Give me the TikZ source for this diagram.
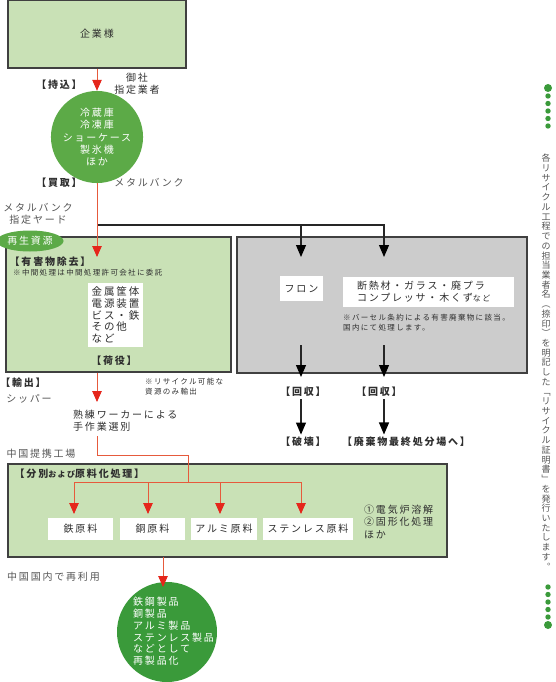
\documentclass[tikz,border=0pt]{standalone}
\usepackage{fontspec}
\setmainfont{Noto Sans CJK JP}[LetterSpace=18]
\usepackage{tikz}
\usetikzlibrary{arrows.meta, positioning, calc, shapes.geometric}
\definecolor{boxgreen}{HTML}{C9E1B6}
\definecolor{leafgreen}{HTML}{5CAA47}
\definecolor{deepgreen}{HTML}{3A9A3A}
\definecolor{boxgray}{HTML}{CCCCCC}
\definecolor{edge}{HTML}{404040}
\definecolor{ink}{HTML}{2E2E2E}
\definecolor{muted}{HTML}{555555}
\definecolor{flowred}{HTML}{E65A3C}
\definecolor{tipred}{HTML}{E5261B}

\begin{document}
\begin{tikzpicture}[
  x=1pt, y=-1pt,
  panel/.style={draw=edge, line width=1.2pt, inner sep=0pt},
  greenpanel/.style={panel, fill=boxgreen},
  graypanel/.style={panel, fill=boxgray},
  lbl/.style={font=\fontsize{10}{12.2}\selectfont, text=ink, inner sep=1pt, align=center},
  tag/.style={lbl, font=\bfseries\fontsize{10}{12}\selectfont, inner sep=2.5pt},
  note/.style={font=\fontsize{7.5}{9.6}\selectfont, text=ink, align=left, inner sep=0pt},
  matbox/.style={lbl, fill=white, minimum height=22pt, inner sep=0pt},
  vtext/.style={font=\fontsize{9}{9.72}\selectfont, text=muted, align=center, inner sep=0pt},
  redarr/.style={-{Triangle[length=11pt, width=9.5pt, color=tipred]}, flowred, line width=0.9pt},
  redline/.style={flowred, line width=0.9pt},
  blkarr/.style={-{Triangle[length=12pt, width=10pt, color=black]}, black!85, line width=1.1pt}
]
  \useasboundingbox (0,0) rectangle (555,682);

  % source and collection
  \node[greenpanel, lbl, minimum width=178pt, minimum height=68pt] (corp) at (97,34) {企業様};
  \node[tag] (bring) at (59,85) {【持込】};
  \node[lbl] (dealer) at (137,84) {御社\\指定業者};
  \node[circle, fill=leafgreen, minimum size=80pt, inner sep=0pt, lbl, text=white] (units) at (97,137)
    {冷蔵庫\\冷凍庫\\ショーケース\\製氷機\\ほか};
  \node[tag] (buy) at (59,183) {【買取】};
  \node[lbl, text=muted] (bank) at (149,183) {メタルバンク};
  \node[lbl, text=muted] (bankyard) at (38,214) {メタルバンク\\指定ヤード};

  % yard
  \node[greenpanel, minimum width=225pt, minimum height=135pt] (yard) at (118.5,304.5) {};
  \node[ellipse, fill=leafgreen, minimum width=60pt, minimum height=21pt, inner sep=0pt,
        lbl, text=white] (resource) at (30,241) {再生資源};
  \node[tag, anchor=west] (hazard) at (7,262) {【有害物除去】};
  \node[note, anchor=west] (hazardnote) at (13,273) {※中間処理は中間処理許可会社に委託};
  \node[lbl, fill=white, align=left, inner xsep=4pt, inner ysep=4pt,
        font=\fontsize{10.5}{11.8}\selectfont] (parts) at (115.5,315)
    {金属筐体\\電源装置\\ビス・鉄\\その他\\など};
  \node[tag] (handling) at (114,361) {【荷役】};
  \node[tag] (export) at (23,383) {【輸出】};
  \node[lbl, text=muted] (shipper) at (29,399) {シッパー};
  \node[note, anchor=north west] (exportnote) at (145,378) {※リサイクル可能な\\資源のみ輸出};
  \node[lbl, anchor=west, align=left] (sort) at (72,421) {熟練ワーカーによる\\手作業選別};

  % domestic treatment
  \node[graypanel, minimum width=290pt, minimum height=136pt] (plant) at (382,305) {};
  \node[lbl, fill=white, minimum width=43pt, minimum height=25pt, inner sep=0pt] (freon) at (301.5,288.5) {フロン};
  \node[lbl, fill=white, align=left, text width=143pt, inner xsep=14pt, inner ysep=4pt] (waste) at (428.5,292)
    {断熱材・ガラス・廃プラ\\コンプレッサ・木くず{\fontsize{8}{10}\selectfont など}};
  \node[note, anchor=north west] (baselnote) at (343,314) {※バーセル条約による有害廃棄物に該当。\\国内にて処理します。};
  \node[tag] (collect1) at (303,392) {【回収】};
  \node[tag] (collect2) at (379,392) {【回収】};
  \node[tag] (destroy) at (303,442) {【破壊】};
  \node[tag] (landfill) at (406,442) {【廃棄物最終処分場へ】};

  % partner factory
  \node[lbl, text=muted] (partner) at (41,454) {中国提携工場};
  \node[greenpanel, minimum width=439pt, minimum height=93pt] (factory) at (227.5,510.5) {};
  \node[tag, anchor=west] (sortproc) at (12,474) {【分別{\fontsize{8}{10}\selectfont および}原料化処理】};
  \node[matbox, minimum width=65pt] (iron) at (80.5,529) {鉄原料};
  \node[matbox, minimum width=65pt] (copper) at (152.5,529) {銅原料};
  \node[matbox, minimum width=66pt] (alum) at (224,529) {アルミ原料};
  \node[matbox, minimum width=90pt] (steel) at (308,529) {ステンレス原料};
  \node[lbl, align=left, anchor=north west] (method) at (363,504) {①電気炉溶解\\②固形化処理\\ほか};

  % reuse
  \node[lbl, text=muted, anchor=west] (domestic) at (6,577) {中国国内で再利用};
  \node[circle, fill=deepgreen, minimum size=100pt, inner sep=0pt] (reuse) at (167,632) {};
  \node[lbl, text=white, align=left, anchor=north west, font=\fontsize{10}{11.8}\selectfont] (products) at (132,596)
    {鉄鋼製品\\銅製品\\アルミ製品\\ステンレス製品\\などとして\\再製品化};

  % connectors
  \coordinate (split) at (97,225);
  \coordinate (yardin) at (97,257);
  \coordinate (freonin) at (301,257);
  \coordinate (wastein) at (384,257);
  \coordinate (freonout) at (301,345);
  \coordinate (wasteout) at (384,345);
  \coordinate (freonend) at (301,377);
  \coordinate (wasteend) at (384,377);
  \coordinate (sortin) at (97,402);
  \coordinate (sortout) at (97,436);
  \coordinate (bend) at (97,455);
  \coordinate (fork) at (188,482);
  \coordinate (ironin) at (74,514);
  \coordinate (copperin) at (148,514);
  \coordinate (aluminn) at (220,514);
  \coordinate (steelin) at (301,514);
  \coordinate (factout) at (163,557);
  \coordinate (reusein) at (163,587);

  \draw[blkarr] (split) -| (freonin);
  \draw[blkarr] (split) -| (wastein);
  \draw[redarr] (corp.south) -- (units.north);
  \draw[redarr] (units.south) -- (yardin);
  \draw[blkarr] (freonout) -- (freonend);
  \draw[blkarr] (wasteout) -- (wasteend);
  \draw[blkarr] (collect1.south -| freonout) -- (destroy.north -| freonout);
  \draw[blkarr] (collect2.south -| wasteout) -- (landfill.north -| wasteout);
  \draw[redarr] (yard.south -| units) -- (sortin);
  \draw[redline] (sortout) -- (bend) -| (fork);
  \draw[redarr] (fork) -| (ironin);
  \draw[redarr] (fork) -| (copperin);
  \draw[redarr] (fork) -| (aluminn);
  \draw[redarr] (fork) -| (steelin);
  \draw[redarr] (factout) -- (reusein);

  % side note
  \fill[deepgreen] (548,88) circle (4pt);
  \foreach \yy in {96,103.5,111,118.5,126} \fill[deepgreen] (548,\yy) circle (2.7pt);
  \node[vtext, anchor=north] (notice) at (546,154)
    {各\\リ\\サ\\イ\\ク\\ル\\工\\程\\で\\の\\担\\当\\業\\者\\名\\︵\\捺\\印\\︶\\を\\明\\記\\し\\た\\﹁\\リ\\サ\\イ\\ク\\ル\\証\\明\\書\\﹂\\を\\発\\行\\い\\た\\し\\ま\\す\\︒};
  \foreach \yy in {587,594.5,602,609.5,617} \fill[deepgreen] (548,\yy) circle (2.7pt);
  \fill[deepgreen] (548,625) circle (4pt);
\end{tikzpicture}
\end{document}
